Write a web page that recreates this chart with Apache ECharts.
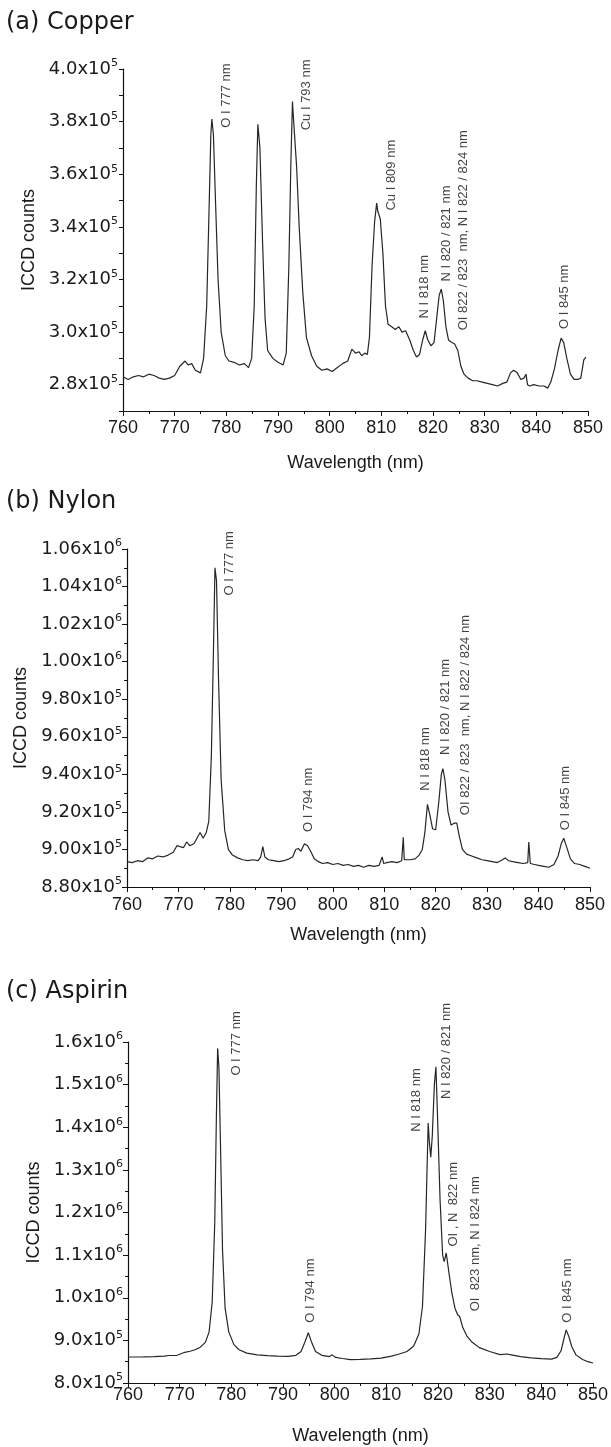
<!DOCTYPE html>
<html>
<head>
<meta charset="utf-8">
<script src="https://cdn.jsdelivr.net/npm/echarts@6/dist/echarts.min.js"></script>
<style>
html,body{margin:0;padding:0;background:#fff;}
#chart{width:611px;height:1447px;}
</style>
</head>
<body>
<div id="chart"></div>
<script>
// ---------- Data (wavelength in nm, counts in ICCD counts) ----------
const xTicks = [760, 770, 780, 790, 800, 810, 820, 830, 840, 850];

// (a) Copper
const copperNm = [760,761,762,763,764,765,766,767,768,769,770,771,772,772.6,773.3,774,775,775.6,776.2,776.7,777.0,777.2,777.5,777.9,778.4,779,779.8,780.5,781.5,782.5,783.5,784.3,784.9,785.4,785.8,786.1,786.5,787,787.5,788,789,790,791,791.6,792.1,792.5,792.8,793.1,793.6,794.1,794.8,795.5,796.5,797.5,798.5,799.5,800.5,801.5,802.5,803.5,804.3,805,805.7,806.2,806.8,807.3,807.7,808.2,808.7,809.1,809.3,809.5,809.8,810.3,810.8,811.3,812,812.7,813.4,814,814.7,815.5,816.2,816.8,817.4,818,818.5,819,819.6,820.2,820.7,821.2,821.6,822,822.5,823,823.5,824.2,824.8,825.4,826,826.8,827.7,828.5,829.5,830.5,831.5,832.5,833.5,834.3,835,835.6,836.3,837,837.6,838,838.3,838.7,839.5,840.5,841.5,842.2,842.8,843.5,844.2,844.8,845.3,845.9,846.6,847.3,848,848.6,849.2,849.6];
const copperCounts = [283000,282000,283000,283500,283000,284000,283500,282500,282000,282500,283500,287000,289000,287500,288000,285500,284500,290000,310000,350000,375000,381000,375000,350000,320000,300000,291000,289000,288500,287500,288000,286500,290000,310000,355000,379000,370000,335000,305000,293000,290000,288500,287500,292000,325000,365000,387600,378000,363000,340000,315000,298000,291000,287000,285500,286000,285000,286500,288000,289000,293500,292000,292500,291000,292000,291500,298000,325000,342000,349000,346000,345500,343000,330000,310000,303000,302000,301000,302000,300000,300500,297000,293000,290500,291500,297000,300500,297000,294800,296000,305000,314000,316300,312000,302000,297000,296200,295500,293000,287000,284000,282500,281500,281500,281000,280500,280000,279500,280500,281000,284500,285500,284500,282000,282500,284000,280000,279500,280000,279500,279500,278700,281000,286000,293000,297700,296000,290000,284000,282000,282000,282500,289500,290500];
const copperYTicks = [280000, 300000, 320000, 340000, 360000, 380000, 400000];
const copperLabelText = ['O I 777 nm','Cu I 793 nm','Cu I 809 nm','N I 818 nm','N I 820 / 821 nm','OI 822 / 823  nm, N I 822 / 824 nm','O I 845 nm'];
const copperLabelNm = [780.1, 795.6, 812.0, 818.5, 822.6, 826.0, 845.5];
const copperLabelCounts = [377500, 376500, 346000, 305000, 319000, 300500, 301000];

// (b) Nylon
const nylonNm = [760,761,762,763,764,765,766,767,768,769,769.7,770.3,771,771.6,772.2,773,773.6,774.2,774.8,775.4,775.9,776.4,776.8,777.1,777.4,777.8,778.3,779,779.7,780.5,781.5,782.5,783.5,784.5,785.5,786,786.4,786.8,787.5,788.5,789.5,790.5,791.5,792.2,792.8,793.3,793.8,794.5,795.1,795.7,796.4,797.2,798,799,800,801,802,803,804,805,806,807,808,809,809.6,809.9,810.5,811.5,812.5,813.4,813.7,813.9,815,816,816.8,817.4,817.9,818.4,818.9,819.4,820,820.6,821.1,821.4,821.8,822.4,823,823.6,824.1,824.6,825.2,826,827,828,829,830,831,832,833,833.5,834.2,835,836,837,837.9,838.1,838.4,839.2,840,841,842,843,843.8,844.4,844.9,845.5,846.2,847,848,849,850];
const nylonCounts = [893500,893000,894000,893500,895500,895000,896500,896000,897000,898500,902000,901500,901000,904000,902000,903000,906000,909000,906000,909000,915000,950000,1005000,1050000,1043000,990000,937000,910000,900000,897000,895500,894500,894000,894500,894000,896000,901500,896000,894500,894000,893500,894000,895000,896000,900000,900500,899000,903000,902000,899000,895000,893500,892500,893000,892000,892500,891500,892000,891000,891500,890500,891500,891000,891500,896000,892500,893000,893500,893000,894000,906500,894500,894500,895000,897000,900000,909000,924000,918000,911000,910500,925000,940000,943000,937000,920000,913000,914000,914000,907000,900000,897500,896500,895500,894500,894000,893500,893000,894500,895500,894000,893500,893000,892500,893000,904000,892500,892000,891500,891000,890500,892000,896500,903000,906000,901000,895000,892500,892000,891000,890000];
const nylonYTicks = [880000, 900000, 920000, 940000, 960000, 980000, 1000000, 1020000, 1040000, 1060000];
const nylonLabelText = ['O I 777 nm','O I 794 nm','N I 818 nm','N I 820 / 821 nm','OI 822 / 823  nm, N I 822 / 824 nm','O I 845 nm'];
const nylonLabelNm = [780.1, 795.4, 818.1, 822.0, 825.9, 845.3];
const nylonLabelCounts = [1035000, 909000, 931000, 950000, 918000, 910000];

// (c) Aspirin
const aspirinNm = [760,763,765,767,768,769.5,771,772,773,774,775,775.7,776.3,776.8,777.1,777.35,777.6,777.9,778.3,778.8,779.5,780.5,781.5,783,785,787,789,791,792.5,793.5,794.3,794.9,795.5,796.3,797.5,799,799.5,800.2,801.5,803,805,807,809,811,812.5,814,815.3,816.3,817,817.6,818.1,818.3,818.6,818.9,819.3,819.6,819.9,820.4,820.9,821.2,821.6,822.1,822.7,823.3,823.8,824.2,824.8,825.6,826.5,828,830,832,833.3,833.6,834.2,836,838,840,842,843,843.8,844.4,844.8,845.3,845.9,846.7,848,849,850];
const aspirinCounts = [861000,861500,862000,863000,864500,865000,872000,874500,878000,884000,896000,920000,990000,1180000,1420000,1585000,1540000,1360000,1110000,975000,920000,890000,878000,870000,866000,864000,863000,862500,865000,874000,898000,918000,897000,874000,865000,862000,866000,860000,857500,855000,855500,856500,858500,863000,868000,874000,887000,915000,980000,1160000,1410000,1370000,1330000,1380000,1500000,1542000,1430000,1230000,1100000,1085000,1105000,1060000,1010000,975000,960000,956000,930000,910000,897000,883000,874000,866500,868000,872000,866000,862000,859000,857000,856000,860000,875000,905000,924500,910000,885000,866000,855000,850000,847000];
const aspirinYTicks = [800000, 900000, 1000000, 1100000, 1200000, 1300000, 1400000, 1500000, 1600000];
const aspirinLabelText = ['O I 777 nm','O I 794 nm','N I 818 nm','N I 820 / 821 nm','OI , N  822 nm','OI  823 nm, N I 824 nm','O I 845 nm'];
const aspirinLabelNm = [781.0, 795.5, 815.9, 821.8, 823.0, 827.4, 845.1];
const aspirinLabelCounts = [1520000, 940000, 1388000, 1465000, 1119000, 967000, 940000];

const panelTitles = ['(a) Copper', '(b) Nylon', '(c) Aspirin'];
const xName = 'Wavelength (nm)';
const yName = 'ICCD counts';

// ---------- Build chart ----------
const zip = (a, b) => a.map((v, i) => [v, b[i]]);

const TXT = '#1a1a1a';
const LINE = '#262626';

function yFormatter(decimals) {
  return function (v) {
    const e = Math.floor(Math.log10(v) + 1e-9);
    const m = (v / Math.pow(10, e)).toFixed(decimals);
    return '{m|' + m + 'x10}{e|' + e + '}';
  };
}
const richY = {
  m: { fontSize: 18, fontFamily: 'DejaVu Sans', color: TXT, lineHeight: 22 },
  e: { fontSize: 11, fontFamily: 'DejaVu Sans', color: TXT, verticalAlign: 'top', lineHeight: 12 }
};

const grids = [
  { left: 123, top: 69, width: 465, height: 342 },
  { left: 127, top: 549, width: 463, height: 338 },
  { left: 128, top: 1042, width: 466, height: 341 }
];

const yCfg = [
  { min: 270000, max: 400000, interval: 10000, ticks: copperYTicks, dec: 1, minor: false },
  { min: 880000, max: 1060000, interval: 20000, ticks: nylonYTicks, dec: 2, minor: true },
  { min: 800000, max: 1600000, interval: 100000, ticks: aspirinYTicks, dec: 1, minor: true }
];
const xLabelMargin = [8, 9, 3];
const xNameGap = [43, 39, 44];

const xAxes = grids.map((g, i) => ({
  gridIndex: i, type: 'value', min: 760, max: 850, interval: 10,
  name: xName, nameLocation: 'middle', nameGap: xNameGap[i],
  nameTextStyle: { fontSize: 18, fontFamily: 'Liberation Sans, Arial', color: TXT },
  axisLine: { show: true, onZero: false, lineStyle: { color: '#111', width: 1.2 } },
  axisTick: { show: true, length: 5, lineStyle: { color: '#111' } },
  minorTick: { show: true, splitNumber: 2, length: 3, lineStyle: { color: '#111' } },
  splitLine: { show: false },
  axisLabel: {
    margin: xLabelMargin[i], fontSize: 18, fontFamily: 'Liberation Sans, Arial', color: TXT,
    customValues: xTicks, formatter: v => String(v)
  }
}));

const yAxes = yCfg.map((c, i) => ({
  gridIndex: i, type: 'value', min: c.min, max: c.max, interval: c.interval,
  name: yName, nameLocation: 'middle', nameGap: 84, nameRotate: 90,
  nameTextStyle: { fontSize: 18, fontFamily: 'Liberation Sans, Arial', color: TXT },
  axisLine: { show: true, onZero: false, lineStyle: { color: '#111', width: 1.2 } },
  axisTick: { show: true, length: i === 0 ? 4 : 5, lineStyle: { color: '#111' } },
  minorTick: { show: c.minor, splitNumber: 2, length: 3, lineStyle: { color: '#111' } },
  splitLine: { show: false },
  axisLabel: {
    margin: 5, customValues: c.ticks, formatter: yFormatter(c.dec), rich: richY
  }
}));

const spectra = [zip(copperNm, copperCounts), zip(nylonNm, nylonCounts), zip(aspirinNm, aspirinCounts)];
const annoSets = [
  [copperLabelText, copperLabelNm, copperLabelCounts],
  [nylonLabelText, nylonLabelNm, nylonLabelCounts],
  [aspirinLabelText, aspirinLabelNm, aspirinLabelCounts]
];

const series = [];
spectra.forEach((d, i) => {
  series.push({
    type: 'line', xAxisIndex: i, yAxisIndex: i, data: d,
    showSymbol: false, symbol: 'none', smooth: false, clip: false,
    lineStyle: { color: LINE, width: 1.2 }, silent: true, z: 2
  });
  const [txt, nm, cnt] = annoSets[i];
  series.push({
    type: 'scatter', xAxisIndex: i, yAxisIndex: i,
    data: txt.map((t, k) => ({
      value: [nm[k], cnt[k]],
      label: { formatter: t }
    })),
    symbol: 'circle', symbolSize: 1, clip: false, silent: true, z: 3,
    itemStyle: { color: 'rgba(0,0,0,0)' },
    label: {
      show: true, position: [0, 0], rotate: 90, align: 'left', verticalAlign: 'middle',
      fontSize: 13, fontFamily: 'Liberation Sans, Arial', color: '#111'
    },
    labelLayout: { hideOverlap: false }
  });
});

const titleTops = [11, 490, 980];
const chart = echarts.init(document.getElementById('chart'), null, { renderer: 'canvas' });
chart.setOption({
  animation: false,
  backgroundColor: '#fff',
  title: panelTitles.map((t, i) => ({
    text: t, left: 6, top: titleTops[i], padding: 0,
    textStyle: { fontSize: 24, fontWeight: 'normal', fontFamily: 'DejaVu Sans', color: TXT }
  })),
  grid: grids,
  xAxis: xAxes,
  yAxis: yAxes,
  series: series
});
</script>
</body>
</html>
